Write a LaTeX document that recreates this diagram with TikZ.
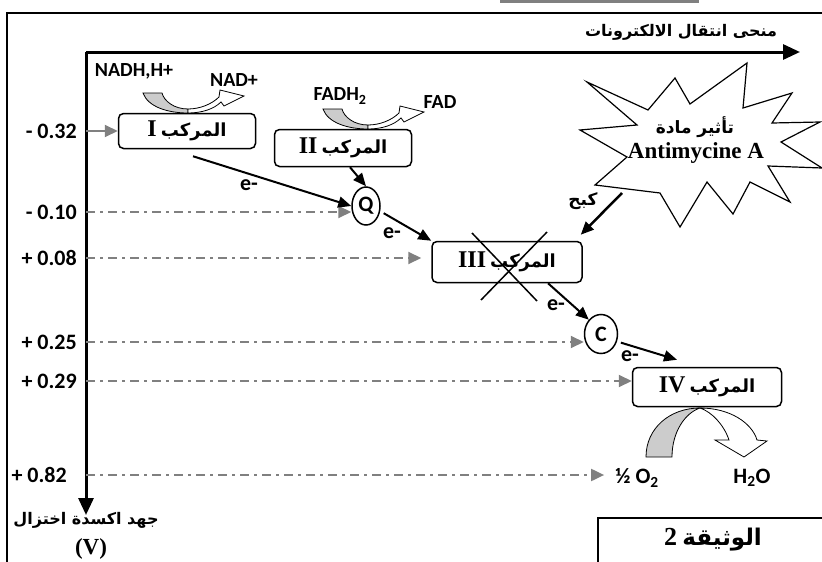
\documentclass[tikz,border=0pt]{standalone}
\usepackage{fontspec}
\setmainfont{Carlito}
\newfontfamily\arabicfont[Script=Arabic]{DejaVu Sans}
\newfontfamily\timesfont{Liberation Serif}
\usetikzlibrary{arrows.meta}
\usetikzlibrary{positioning}
\usetikzlibrary{shapes.geometric}
\TeXXeTstate=1
\newcommand{\artext}[1]{{\arabicfont\bfseries\beginR #1\endR}}
% grey/white U-turn arrow of a coenzyme over a complex
\newcommand{\cofactor}[2]{%
\begin{scope}[shift={(#1,#2)}]
\draw[fill=gray!40,line width=0.8pt] (-45,-20) .. controls (-40,-6) and (-20,0) .. (0,0) -- (0,-4) .. controls (-14,-4) and (-24,-12) .. (-26,-20) -- cycle;
\draw[fill=white,line width=0.8pt] (0,0) .. controls (14,0) and (26,-4) .. (33,-11) -- (36,-7) -- (56,-17) -- (32,-23) -- (31,-16) .. controls (24,-9) and (12,-4) .. (0,-4) -- cycle;
\end{scope}}

\begin{document}
\begin{tikzpicture}[x=1pt,y=-1pt,
  box/.style={draw,line width=1.5pt,rounded corners=5pt,minimum width=137pt,minimum height=35pt,inner sep=0pt,font=\fontsize{18}{20}\selectfont},
  carrier/.style={draw,ellipse,line width=1.5pt,inner sep=0pt,minimum width=28pt,minimum height=38pt,font=\bfseries\fontsize{22}{22}\selectfont},
  flow/.style={line width=2pt,-{Triangle[length=13pt,width=11pt]}},
  level/.style={gray,line width=2pt,dash pattern=on 9pt off 5pt on 3pt off 5pt,-{Triangle[length=13pt,width=12pt]}},
  val/.style={anchor=east,inner sep=1pt,font=\bfseries\fontsize{22}{22}\selectfont},
  lbl/.style={inner sep=1pt,font=\bfseries\fontsize{20}{20}\selectfont},
  elec/.style={inner sep=1pt,font=\bfseries\fontsize{22}{22}\selectfont}]
\useasboundingbox (0,0) rectangle (822,562);

% frame
\fill[gray] (500,0) rectangle (699,3);
\draw[line width=2pt] (7,562) -- (7,13) -- (822,13);
\draw[line width=1.5pt] (598,562) -- (598,518) -- (822,518);
\node[font=\fontsize{23}{24}\selectfont] (doc) at (713,540) {{\timesfont\bfseries\fontsize{26}{26}\selectfont 2} \artext{الوثيقة}};

% axes
\coordinate (O) at (86,52);
\coordinate (xend) at (800,52);
\coordinate (yend) at (86,515);
\draw[line width=3pt,-{Triangle[length=17pt,width=15pt]}] (O) -- (xend);
\draw[line width=3pt,-{Triangle[length=17pt,width=15pt]}] (O) -- (yend);
\node[font=\fontsize{16}{18}\selectfont] (xlab) at (681,32) {\artext{منحى انتقال الالكترونات}};
\node[font=\fontsize{16}{18}\selectfont] (ylab) at (86,520) {\artext{جهد اكسدة اختزال}};
\node[font=\fontsize{23}{24}\selectfont] (yunit) at (91,549) {\timesfont\bfseries (V)};

% redox levels
\node[val] (v32) at (78,131) {- 0.32};
\node[val] (v10) at (78,212) {- 0.10};
\node[val] (v08) at (78,258) {+ 0.08};
\node[val] (v25) at (78,342) {+ 0.25};
\node[val] (v29) at (78,381) {+ 0.29};
\node[val] (v82) at (68,475) {+ 0.82};

% complexes and carriers
\node[box] (c1) at (187,131) {{\timesfont\bfseries\fontsize{24}{24}\selectfont I} \artext{المركب}};
\node[box,minimum height=37pt] (c2) at (343,148) {{\timesfont\bfseries\fontsize{24}{24}\selectfont II} \artext{المركب}};
\node[box,minimum width=150pt,minimum height=41pt] (c3) at (507,262) {{\timesfont\bfseries\fontsize{24}{24}\selectfont III} \artext{المركب}};
\node[box,minimum width=149pt,minimum height=39pt] (c4) at (707,387) {{\timesfont\bfseries\fontsize{24}{24}\selectfont IV} \artext{المركب}};
\node[carrier] (Q) at (366,206) {Q};
\node[carrier,minimum width=33pt,minimum height=39pt] (C) at (601,334) {C};

\draw[gray,line width=2pt,-{Triangle[length=13pt,width=12pt]}] (v32.east -| O) -- (c1.west);
\draw[level] (v10.east -| O) -- (v10.east -| Q.west);
\draw[level,shorten >=10pt] (v08.east -| O) -- (v08.east -| c3.west);
\draw[level] (v25.east -| O) -- (v25.east -| C.west);
\draw[level] (v29.east -| O) -- (v29.east -| c4.west);

% electron flow
\draw[flow] ([shift={(6,7)}]c1.south) -- (Q.west);
\node[elec] (e1) at (249,185) {e-};
\draw[flow] ([xshift=7]c2.south) -- (Q.north);
\draw[flow,shorten <=4pt] (Q.-20) -- (c3.north west);
\node[elec] (e2) at (392,233) {e-};
\draw[flow] ([xshift=41]c3.south) -- (C.north west);
\node[elec] (e3) at (556,305) {e-};
\draw[flow,shorten <=4pt] (C.-25) -- ([shift={(-30,-7)}]c4.north);
\node[elec] (e4) at (630,356) {e-};

% inhibited complex III
\draw[line width=1.5pt] (472,233) -- (537,301);
\draw[line width=1.5pt] (547,232) -- (481,300);

% Antimycine A
\draw[line width=1.2pt,fill=white] (587,82) -- (648,110) -- (675,78) -- (690,104) -- (747,63) -- (743,108) -- (792,93) -- (772,123) -- (820,122) -- (781,142) -- (822,168) -- (768,166) -- (790,202) -- (750,182) -- (733,214) -- (707,182) -- (680,227) -- (660,193) -- (595,185) -- (627,157) -- (580,130) -- (637,125) -- cycle;
\node[font=\fontsize{17}{18}\selectfont] (ant1) at (695,127) {\artext{تأثير مادة}};
\node[font=\fontsize{23}{24}\selectfont] (ant2) at (696,153) {\timesfont\bfseries Antimycine A};
\coordinate (kstart) at (622,193);
\draw[flow,line width=2.5pt] (kstart) -- ([shift={(-2,-6)}]c3.north east);
\node[font=\fontsize{17}{18}\selectfont] (stop) at (583,201) {\artext{كبح}};

% coenzymes
\node[lbl] (nadh) at (134,71) {NADH,H+};
\node[lbl] (nad) at (234,80) {NAD+};
\node[lbl] (fadh) at (340,96) {FADH\textsubscript{2}};
\node[lbl] (fad) at (440,102) {FAD};
\cofactor{188}{113}
\cofactor{368}{129}

% oxygen reduction at complex IV
\draw[fill=gray!40,line width=0.8pt] (646,457) .. controls (646,428) and (670,408) .. (700,408) .. controls (685,413) and (672,432) .. (672,457) -- cycle;
\draw[fill=white,line width=0.8pt] (700,408) .. controls (730,408) and (752,423) .. (757,440) -- (767,441) -- (744,457) -- (715,440) -- (729,440) .. controls (724,425) and (712,412) .. (700,408) -- cycle;
\node[elec] (o2) at (637,478) {½ O\textsubscript{2}};
\node[elec] (h2o) at (752,478) {H\textsubscript{2}O};
\draw[level,shorten >=10pt] (v82.east -| O) -- (v82.east -| o2.west);

\end{tikzpicture}
\end{document}
